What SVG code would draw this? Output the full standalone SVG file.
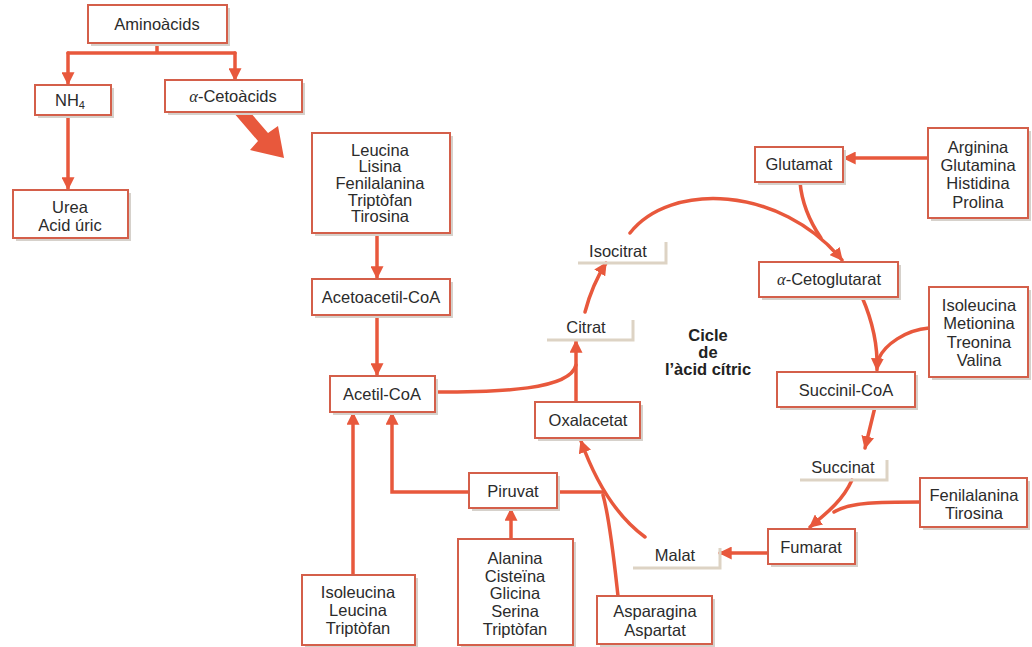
<svg xmlns="http://www.w3.org/2000/svg" width="1032" height="647" viewBox="0 0 1032 647">
  <defs>
    <marker id="arrow" viewBox="0 0 10 10" refX="9" refY="5" markerWidth="13" markerHeight="13" markerUnits="userSpaceOnUse" orient="auto">
      <path d="M0,0 L10,5 L0,10 z" fill="#e8583c"/>
    </marker>
    <style>
      .box { fill: #ffffff; stroke: #d45f4a; stroke-width: 2; }
      .shadow { fill: #d6d1cb; }
      .edge { fill: none; stroke: #e8583c; stroke-width: 3.5; stroke-linecap: round; }
      .bar { fill: none; stroke: #ddd3c4; stroke-width: 3; }
      .t { font-family: "Liberation Sans", Arial, sans-serif; font-size: 16.5px; fill: #2b2b2b; text-anchor: middle; }
      .b { font-family: "Liberation Sans", Arial, sans-serif; font-size: 16.5px; font-weight: bold; fill: #222; text-anchor: middle; }
    </style>
  </defs>

  <rect width="1032" height="647" fill="#ffffff"/>

  <!-- connectors -->
  <g id="connectors">
    <path class="edge" d="M157,43 V53 M68,53 H235"/>
    <path class="edge" d="M68,53 V84" marker-end="url(#arrow)"/>
    <path class="edge" d="M235,53 V80" marker-end="url(#arrow)"/>
    <path class="edge" d="M68,115 V189" marker-end="url(#arrow)"/>
    <polygon points="233,112 250,112 268,133 278,126 284,158 250,150 258,141" fill="#e8583c"/>
    <path class="edge" d="M377,233 V278" marker-end="url(#arrow)"/>
    <path class="edge" d="M377,315 V375" marker-end="url(#arrow)"/>
    <path class="edge" d="M435,392 C500,392 570,390 576,365"/>
    <path class="edge" d="M576,402 V341" marker-end="url(#arrow)"/>
    <path class="edge" d="M585,312 Q592,285 606,263" marker-end="url(#arrow)"/>
    <path class="edge" d="M630,233 C670,182 780,185 842,260" marker-end="url(#arrow)"/>
    <path class="edge" d="M800,182 C802,205 810,222 821,238"/>
    <path class="edge" d="M928,158 H844" marker-end="url(#arrow)"/>
    <path class="edge" d="M862,297 C872,320 878,345 877,370" marker-end="url(#arrow)"/>
    <path class="edge" d="M929,328 C905,330 885,345 879,358"/>
    <path class="edge" d="M875,407 L865,448" marker-end="url(#arrow)"/>
    <path class="edge" d="M852,480 C843,500 828,512 810,527" marker-end="url(#arrow)"/>
    <path class="edge" d="M920,502 C880,502 850,502 834,512"/>
    <path class="edge" d="M768,553 H720" marker-end="url(#arrow)"/>
    <path class="edge" d="M645,537 C615,515 595,480 581,441" marker-end="url(#arrow)"/>
    <path class="edge" d="M618,596 C614,560 610,520 603,495"/>
    <path class="edge" d="M557,492 H604"/>
    <path class="edge" d="M469,492 H392 V413" marker-end="url(#arrow)"/>
    <path class="edge" d="M353,575 V413" marker-end="url(#arrow)"/>
    <path class="edge" d="M511,539 V509" marker-end="url(#arrow)"/>
  </g>

  <!-- boxed nodes -->
  <g id="aminoacids">
    <rect class="shadow" x="91" y="8" width="139" height="38"/>
    <rect class="box" x="88" y="5" width="139" height="38"/>
    <text class="t" x="157" y="30">Aminoàcids</text>
  </g>
  <g id="nh4">
    <rect class="shadow" x="38" y="88" width="76" height="30"/>
    <rect class="box" x="35" y="85" width="76" height="30"/>
    <text class="t" x="70" y="106">NH<tspan font-size="11" dy="3">4</tspan></text>
  </g>
  <g id="cetoacids">
    <rect class="shadow" x="168" y="83" width="137" height="32"/>
    <rect class="box" x="165" y="80" width="137" height="32"/>
    <text class="t" x="233" y="102"><tspan font-family="Liberation Serif, serif" font-style="italic">α</tspan>-Cetoàcids</text>
  </g>
  <g id="urea">
    <rect class="shadow" x="16" y="193" width="115" height="48"/>
    <rect class="box" x="13" y="190" width="115" height="48"/>
    <text class="t" x="70" y="213">Urea</text>
    <text class="t" x="70" y="231">Acid úric</text>
  </g>
  <g id="leucina-group">
    <rect class="shadow" x="315" y="136" width="138" height="100"/>
    <rect class="box" x="312" y="133" width="138" height="100"/>
    <text class="t" x="380" y="156">Leucina</text>
    <text class="t" x="380" y="172">Lisina</text>
    <text class="t" x="380" y="189">Fenilalanina</text>
    <text class="t" x="380" y="206">Triptòfan</text>
    <text class="t" x="380" y="222">Tirosina</text>
  </g>
  <g id="acetoacetil">
    <rect class="shadow" x="315" y="282" width="138" height="36"/>
    <rect class="box" x="312" y="279" width="138" height="36"/>
    <text class="t" x="381" y="303">Acetoacetil-CoA</text>
  </g>
  <g id="acetil">
    <rect class="shadow" x="333" y="379" width="105" height="36"/>
    <rect class="box" x="330" y="376" width="105" height="36"/>
    <text class="t" x="382" y="400">Acetil-CoA</text>
  </g>
  <g id="oxalacetat">
    <rect class="shadow" x="538" y="405" width="105" height="36"/>
    <rect class="box" x="535" y="402" width="105" height="36"/>
    <text class="t" x="588" y="426">Oxalacetat</text>
  </g>
  <g id="piruvat">
    <rect class="shadow" x="472" y="476" width="88" height="35"/>
    <rect class="box" x="469" y="473" width="88" height="35"/>
    <text class="t" x="513" y="497">Piruvat</text>
  </g>
  <g id="alanina-group">
    <rect class="shadow" x="461" y="542" width="115" height="106"/>
    <rect class="box" x="458" y="539" width="115" height="106"/>
    <text class="t" x="515" y="564">Alanina</text>
    <text class="t" x="515" y="582">Cisteïna</text>
    <text class="t" x="515" y="599">Glicina</text>
    <text class="t" x="515" y="617">Serina</text>
    <text class="t" x="515" y="635">Triptòfan</text>
  </g>
  <g id="isoleucina-acetil">
    <rect class="shadow" x="305" y="578" width="113" height="70"/>
    <rect class="box" x="302" y="575" width="113" height="70"/>
    <text class="t" x="358" y="598">Isoleucina</text>
    <text class="t" x="358" y="616">Leucina</text>
    <text class="t" x="358" y="634">Triptòfan</text>
  </g>
  <g id="asparagina">
    <rect class="shadow" x="600" y="599" width="115" height="48"/>
    <rect class="box" x="597" y="596" width="115" height="48"/>
    <text class="t" x="655" y="617">Asparagina</text>
    <text class="t" x="655" y="636">Aspartat</text>
  </g>
  <g id="glutamat">
    <rect class="shadow" x="758" y="150" width="88" height="35"/>
    <rect class="box" x="755" y="147" width="88" height="35"/>
    <text class="t" x="799" y="170">Glutamat</text>
  </g>
  <g id="arginina-group">
    <rect class="shadow" x="931" y="131" width="100" height="90"/>
    <rect class="box" x="928" y="128" width="100" height="90"/>
    <text class="t" x="978" y="153">Arginina</text>
    <text class="t" x="978" y="171">Glutamina</text>
    <text class="t" x="978" y="189">Histidina</text>
    <text class="t" x="978" y="208">Prolina</text>
  </g>
  <g id="cetoglutarat">
    <rect class="shadow" x="762" y="265" width="139" height="35"/>
    <rect class="box" x="759" y="262" width="139" height="35"/>
    <text class="t" x="829" y="285"><tspan font-family="Liberation Serif, serif" font-style="italic">α</tspan>-Cetoglutarat</text>
  </g>
  <g id="isoleucina-succinil">
    <rect class="shadow" x="932" y="290" width="99" height="90"/>
    <rect class="box" x="929" y="287" width="99" height="90"/>
    <text class="t" x="979" y="311">Isoleucina</text>
    <text class="t" x="979" y="329">Metionina</text>
    <text class="t" x="979" y="348">Treonina</text>
    <text class="t" x="979" y="366">Valina</text>
  </g>
  <g id="succinil">
    <rect class="shadow" x="780" y="375" width="138" height="35"/>
    <rect class="box" x="777" y="372" width="138" height="35"/>
    <text class="t" x="846" y="396">Succinil-CoA</text>
  </g>
  <g id="fenilalanina-tirosina">
    <rect class="shadow" x="923" y="481" width="107" height="49"/>
    <rect class="box" x="920" y="478" width="107" height="49"/>
    <text class="t" x="974" y="501">Fenilalanina</text>
    <text class="t" x="974" y="519">Tirosina</text>
  </g>
  <g id="fumarat">
    <rect class="shadow" x="771" y="532" width="87" height="35"/>
    <rect class="box" x="768" y="529" width="87" height="35"/>
    <text class="t" x="811" y="553">Fumarat</text>
  </g>

  <!-- unboxed cycle intermediates -->
  <g id="citrat">
    <path class="bar" d="M547,340 H633 V320"/>
    <text class="t" x="586" y="333">Citrat</text>
  </g>
  <g id="isocitrat">
    <path class="bar" d="M578,263 H666 V242"/>
    <text class="t" x="618" y="257">Isocitrat</text>
  </g>
  <g id="succinat">
    <path class="bar" d="M800,480 H887 V460"/>
    <text class="t" x="843" y="473">Succinat</text>
  </g>
  <g id="malat">
    <path class="bar" d="M633,568 H720 V548"/>
    <text class="t" x="675" y="561">Malat</text>
  </g>

  <g id="cycle-title">
    <text class="b" x="708" y="341">Cicle</text>
    <text class="b" x="708" y="358">de</text>
    <text class="b" x="708" y="375">l’àcid cítric</text>
  </g>
</svg>
